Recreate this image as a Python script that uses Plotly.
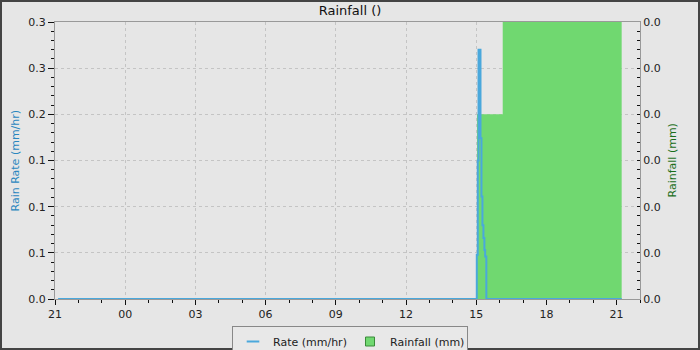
import plotly.graph_objects as go

# ---- data ----
rate_times = ["2024-01-01 21:08", "2024-01-02 15:01", "2024-01-02 15:01:30", "2024-01-02 15:04",
              "2024-01-02 15:06", "2024-01-02 15:11", "2024-01-02 15:13:30", "2024-01-02 15:16",
              "2024-01-02 15:18:30", "2024-01-02 15:21", "2024-01-02 15:23", "2024-01-02 15:26",
              "2024-01-02 21:13"]
rate_values = [0, 0, 0.048, 0.15, 0.27, 0.174, 0.111, 0.08, 0.066, 0.053, 0.046, 0, 0]

rain_times = ["2024-01-02 15:02", "2024-01-02 16:08", "2024-01-02 21:13"]
rain_values = [0.02, 0.03, 0.03]

left_tickvals = [0, 0.05, 0.1, 0.15, 0.2, 0.25, 0.3]
left_ticktext = ["0.0", "0.1", "0.1", "0.1", "0.2", "0.3", "0.3"]
right_tickvals = [0, 0.005, 0.01, 0.015, 0.02, 0.025, 0.03]
right_ticktext = ["0.0"] * 7

BG = "#e6e6e6"
FONT = "DejaVu Sans"
L, R, T, B = 55, 60, 22, 51
PW, PH = 700 - L - R, 350 - T - B
BLUE = "#4aa8dc"
GREEN = "#70d870"

fig = go.Figure()
fig.add_trace(go.Scatter(x=rain_times, y=rain_values, name="Rainfall (mm)", mode="lines",
                         line=dict(shape="hv", width=0, color=GREEN),
                         fill="tozeroy", fillcolor=GREEN, yaxis="y", showlegend=False))
fig.add_trace(go.Scatter(x=rate_times, y=rate_values, name="Rate (mm/hr)", mode="lines",
                         line=dict(shape="hv", width=2, color=BLUE), yaxis="y2", showlegend=False))
# legend-only entries
fig.add_trace(go.Scatter(x=[None], y=[None], name="Rate (mm/hr)", mode="markers", yaxis="y2",
                         marker=dict(symbol="line-ew-open", size=9, color=BLUE,
                                     line=dict(color=BLUE, width=2))))
fig.add_trace(go.Scatter(x=[None], y=[None], name="Rainfall (mm)", mode="markers", yaxis="y",
                         marker=dict(symbol="square", size=9, color=GREEN,
                                     line=dict(color="#3a8a3a", width=1))))

axis_common = dict(showline=True, linecolor="#999999", linewidth=1, tickcolor="#111111",
                   tickfont=dict(family=FONT, size=11, color="#222222"), zeroline=False)
GRID = dict(showgrid=True, gridcolor="#c4c4c4", griddash="3px,3px", gridwidth=1)

fig.update_layout(
    width=700, height=350,
    margin=dict(l=L, r=R, t=T, b=B, autoexpand=False),
    paper_bgcolor=BG, plot_bgcolor=BG,
    font=dict(family=FONT, size=11, color="#222222"),
    title=dict(text="Rainfall ()", x=0.5, xanchor="center", y=1 - 10 / 350, yanchor="middle",
               font=dict(family=FONT, size=13, color="#111111")),
    xaxis=dict(type="date", range=["2024-01-01 21:00", "2024-01-02 22:00"],
               tick0="2024-01-01 21:00", dtick=3 * 3600000, tickformat="%H",
               ticks="outside", ticklen=5, mirror=True,
               minor=dict(dtick=3600000, ticks="outside", ticklen=3, tickcolor="#111111", showgrid=False),
               **GRID, **axis_common),
    yaxis=dict(side="right", range=[0, 0.03], tickmode="array", tickvals=right_tickvals,
               ticktext=right_ticktext, ticks="inside", ticklen=3, showgrid=False,
               minor=dict(dtick=0.001, ticks="inside", ticklen=3, tickcolor="#111111", showgrid=False),
               **axis_common),
    yaxis2=dict(side="left", overlaying="y", range=[0, 0.3], tickmode="array",
                tickvals=left_tickvals, ticktext=left_ticktext, ticks="outside", ticklen=6,
                minor=dict(dtick=0.01, ticks="outside", ticklen=3, tickcolor="#111111", showgrid=False),
                **GRID, **axis_common),
    legend=dict(orientation="h", x=0.5, xref="container", xanchor="center",
                y=1 - 326 / 350, yref="container", yanchor="top",
                bgcolor="#e8e8e8", bordercolor="#888888", borderwidth=1, itemwidth=30,
                entrywidth=72, entrywidthmode="pixels",
                font=dict(family=FONT, size=11, color="#222222")),
    annotations=[
        dict(text="Rain Rate (mm/hr)", textangle=-90, x=(15 - L) / PW, xanchor="center",
             y=0.5, yanchor="middle", xref="paper", yref="paper", showarrow=False,
             font=dict(family=FONT, size=11, color="#2a86bf")),
        dict(text="Rainfall (mm)", textangle=-90, x=(672 - L) / PW, xanchor="center",
             y=0.5, yanchor="middle", xref="paper", yref="paper", showarrow=False,
             font=dict(family=FONT, size=11, color="#1a6e1a")),
    ],
    shapes=[dict(type="rect", xref="paper", yref="paper",
                 x0=(1 - L) / PW, x1=(699 - L) / PW, y0=(299 - 349) / PH, y1=(299 - 1) / PH,
                 line=dict(color="#444444", width=2), layer="above")],
)

fig.write_html("out.html")
